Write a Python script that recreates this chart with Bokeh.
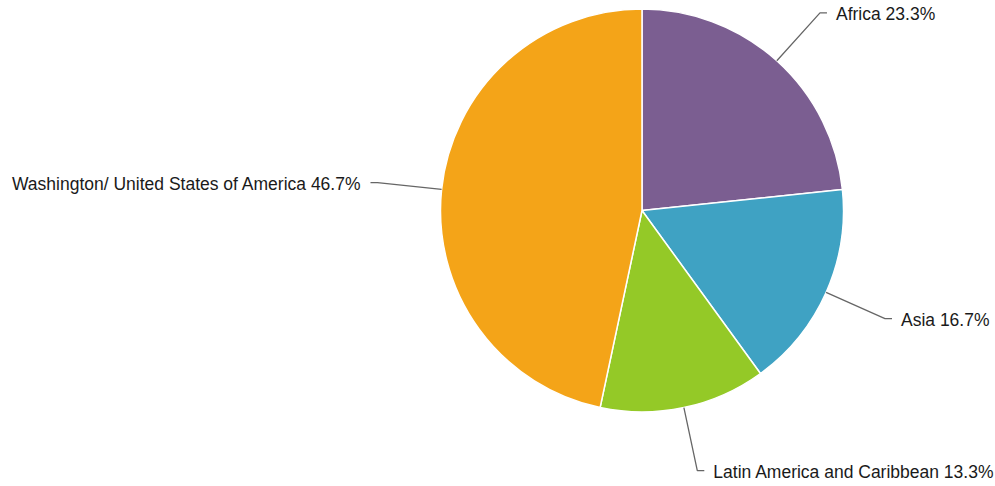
import numpy as np
from bokeh.plotting import figure
from bokeh.models import Range1d, ColumnDataSource
from bokeh.core.properties import value
from bokeh.embed import file_html
from bokeh.resources import INLINE

categories = ["Africa", "Asia", "Latin America and Caribbean", "Washington/ United States of America"]
counts = [7, 5, 4, 14]
colors = ["#7B5E91", "#3FA2C3", "#94C927", "#F4A418"]

W, H = 995, 486
cx, cy, R = 641.5, 486 - 210.0, 201.5
label_r = R * 1.32

vals = np.array(counts, dtype=float)
frac = vals / vals.sum()
c1 = np.cumsum(frac)
c0 = c1 - frac
start = np.pi / 2 - 2 * np.pi * c0
end = np.pi / 2 - 2 * np.pi * c1
mid = (start + end) / 2

p = figure(width=W, height=H, output_backend="svg", toolbar_location=None,
           x_range=Range1d(0, W), y_range=Range1d(0, H), min_border=0)
p.axis.visible = False
p.grid.visible = False
p.outline_line_color = None

src = ColumnDataSource(dict(start=start, end=end, color=colors))
p.wedge(x=cx, y=cy, radius=R, start_angle="start", end_angle="end", direction="clock",
        fill_color="color", line_color="white", line_width=1.5, source=src)

for i, cat in enumerate(categories):
    a = mid[i]
    x0, y0 = cx + R * np.cos(a), cy + R * np.sin(a)
    x1, y1 = cx + label_r * np.cos(a), cy + label_r * np.sin(a)
    side = 1 if np.cos(a) >= 0 else -1
    x2 = x1 + side * 7
    p.line([x0, x1, x2], [y0, y1, y1], line_color="#666666", line_width=1.3)
    pct = f"{frac[i]*100:.1f}%"
    p.text(x=[x1 + side * 16], y=[y1 - 1], text=[f"{cat} {pct}"],
           text_font=value("Liberation Sans"), text_font_size="17.5px",
           text_color="#1a1a1a", text_baseline="middle",
           text_align="left" if side > 0 else "right")

open("out.html", "w").write(file_html(p, INLINE))
